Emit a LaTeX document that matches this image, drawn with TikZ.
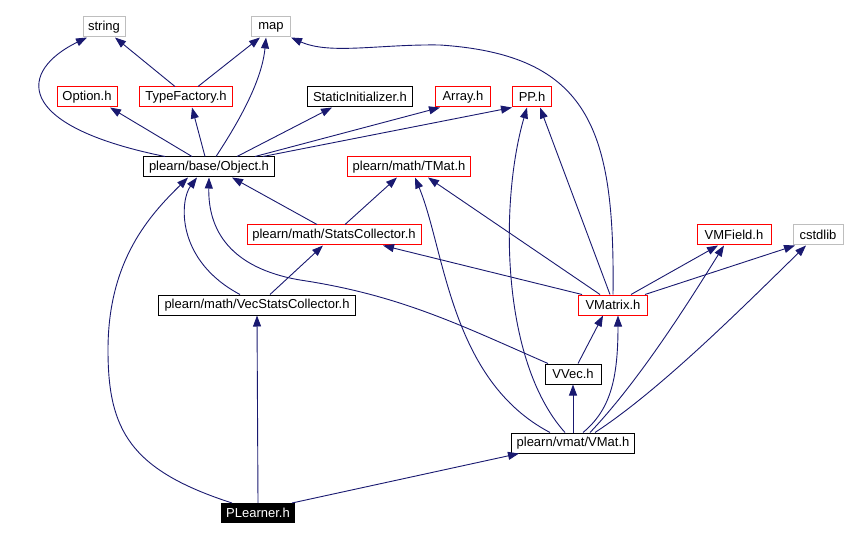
\documentclass[tikz,border=0pt]{standalone}
\usepackage{fontspec}
\setmainfont{Liberation Sans}
\usepackage{xcolor}
\usepackage{tikz}
\usetikzlibrary{arrows.meta}

\definecolor{edgeblue}{RGB}{25,25,112}
\definecolor{boxgray}{RGB}{190,190,190}

\tikzset{
    hdr/.style={draw=black, line width=1pt, rectangle, minimum height=20, inner sep=0,
        font=\fontsize{13}{15}\selectfont},
    hdrred/.style={hdr, draw=red},
    hdrgray/.style={hdr, draw=boxgray},
    hdrsel/.style={hdr, fill=black, text=white, minimum height=19},
    dep/.style={->, draw=edgeblue, line width=0.9pt}
}

\begin{document}
\begin{tikzpicture}[x=1pt, y=-1pt, >={Triangle[length=11pt,width=8pt]}]

    \useasboundingbox (0,0) rectangle (846,540);

    % =================================================================
    % 1. CAC NUT (header files)
    % =================================================================
    \node[hdrgray, minimum width=42] (str) at (104,27) {string};
    \node[hdrgray, minimum width=39] (map) at (271,27) {map};

    \node[hdrred, minimum width=60] (opt) at (87,97) {Option.h};
    \node[hdrred, minimum width=93] (tf) at (186,97) {TypeFactory.h};
    \node[hdr, minimum width=105] (si) at (360,97) {StaticInitializer.h};
    \node[hdrred, minimum width=55] (arr) at (463,97) {Array.h};
    \node[hdrred, minimum width=39] (pp) at (532,97) {PP.h};

    \node[hdr, minimum width=131] (obj) at (209,167) {plearn/base/Object.h};
    \node[hdrred, minimum width=123] (tmat) at (409,167) {plearn/math/TMat.h};

    \node[hdrred, minimum width=174] (sc) at (334,235) {plearn/math/StatsCollector.h};
    \node[hdrred, minimum width=74] (vmf) at (734,235) {VMField.h};
    \node[hdrgray, minimum width=50] (cstd) at (818,235) {cstdlib};

    \node[hdr, minimum width=197] (vsc) at (257,305) {plearn/math/VecStatsCollector.h};
    \node[hdrred, minimum width=69] (vmx) at (613,305) {VMatrix.h};

    \node[hdr, minimum width=56] (vvec) at (573,374) {VVec.h};
    \node[hdr, minimum width=123] (vmat) at (573,443) {plearn/vmat/VMat.h};

    \node[hdrsel, minimum width=73] (pl) at (258,513) {PLearner.h};

    % =================================================================
    % 2. CAC CANH TU Object.h VA TypeFactory.h
    % =================================================================
    \draw[dep] ([xshift=-44]obj.north) .. controls (10,125) and (20,70) .. ([xshift=-17]str.south);
    \draw[dep] ([xshift=-11]tf.north) -- ([xshift=11]str.south);
    \draw[dep] ([xshift=12]tf.north) -- ([xshift=-11]map.south);
    \draw[dep] ([xshift=7]obj.north) .. controls (240,120) and (262,80) .. ([xshift=-5]map.south);
    \draw[dep] ([xshift=-17]obj.north) -- ([xshift=23]opt.south);
    \draw[dep] ([xshift=-4]obj.north) -- ([xshift=6]tf.south);
    \draw[dep] ([xshift=28]obj.north) -- ([xshift=-28]si.south);
    \draw[dep] ([xshift=46]obj.north) -- ([xshift=-23]arr.south);
    \draw[dep] ([xshift=54]obj.north) -- (pp.south west);

    % =================================================================
    % 3. CAC CANH TU StatsCollector.h, VecStatsCollector.h, PLearner.h
    % =================================================================
    \draw[dep] ([xshift=-17]sc.north) -- ([xshift=23]obj.south);
    \draw[dep] ([xshift=11]sc.north) -- ([xshift=-12]tmat.south);
    \draw[dep] ([xshift=-17]vsc.north) .. controls (175,260) and (180,200) .. ([xshift=-12]obj.south);
    \draw[dep] ([xshift=13]vsc.north) -- ([xshift=-11]sc.south);
    \draw[dep] (pl.north) -- (vsc.south);
    \draw[dep] ([xshift=-26]pl.north) .. controls (130,470) and (108,430) .. (108,350)
        .. controls (108,260) and (150,215) .. ([xshift=-21]obj.south);
    \draw[dep] ([xshift=-3]pl.north east) -- ([xshift=8]vmat.south west);

    % =================================================================
    % 4. CAC CANH TU VMatrix.h VA VVec.h
    % =================================================================
    \draw[dep] (vmx.north) .. controls (615,130) and (590,55) .. (440,45)
        .. controls (380,44) and (330,55) .. (map.south east);
    \draw[dep] ([xshift=-13]vmx.north) -- ([xshift=19]tmat.south);
    \draw[dep] ([xshift=-31]vmx.north) -- ([xshift=49]sc.south);
    \draw[dep] ([xshift=-3]vmx.north) -- ([xshift=8]pp.south);
    \draw[dep] ([xshift=18]vmx.north) -- ([xshift=-16]vmf.south);
    \draw[dep] ([xshift=32]vmx.north) -- ([xshift=-23]cstd.south);
    \draw[dep] ([xshift=-25]vvec.north) .. controls (460,325) and (400,295) .. (300,280)
        .. controls (230,268) and (208,230) .. (obj.south);
    \draw[dep] ([xshift=5]vvec.north) -- ([xshift=-10]vmx.south);

    % =================================================================
    % 5. CAC CANH TU VMat.h
    % =================================================================
    \draw[dep] (vmat.north) -- (vvec.south);
    \draw[dep] ([xshift=-23]vmat.north) .. controls (450,380) and (445,250) .. ([xshift=6]tmat.south);
    \draw[dep] ([xshift=-8]vmat.north) .. controls (500,360) and (500,200) .. ([xshift=-5]pp.south);
    \draw[dep] ([xshift=10]vmat.north) .. controls (610,410) and (618,380) .. ([xshift=5]vmx.south);
    \draw[dep] ([xshift=17]vmat.north) .. controls (640,380) and (690,300) .. ([xshift=-10]vmf.south);
    \draw[dep] ([xshift=22]vmat.north) .. controls (660,390) and (740,310) .. ([xshift=-12]cstd.south);

\end{tikzpicture}
\end{document}
